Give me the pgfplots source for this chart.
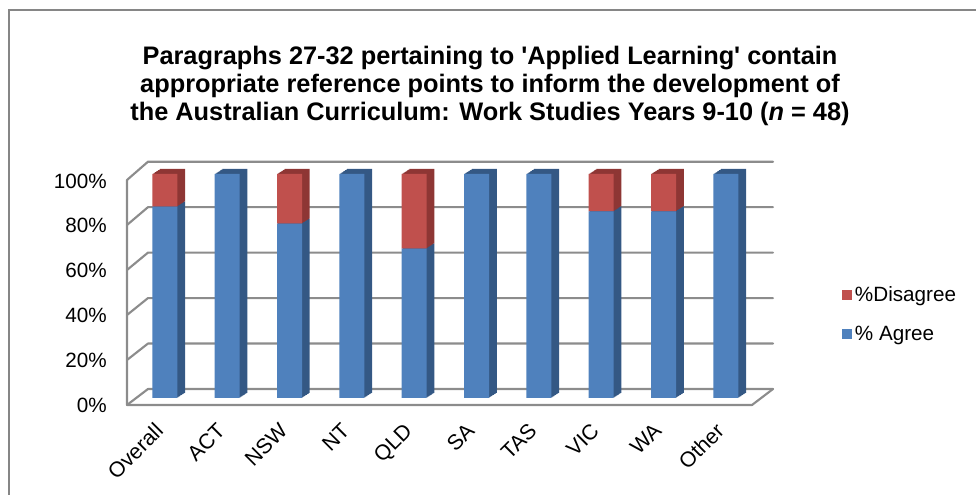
\documentclass[border=0pt]{standalone}
\usepackage{fontspec}
\setmainfont{Liberation Sans}
\usepackage{pgfplots}
\usepackage{pgfplotstable}
\pgfplotsset{compat=1.18}
\definecolor{fblue}{RGB}{79,129,189}
\definecolor{fred}{RGB}{192,80,77}
\definecolor{sblue}{RGB}{52,88,132}
\definecolor{sred}{RGB}{142,54,52}
\definecolor{wallc}{RGB}{140,140,140}
\definecolor{framec}{RGB}{134,134,134}

\pgfplotstableread{
x agree disagree zero
0 85.4 14.6 0
1 100 0 0
2 77.8 22.2 0
3 100 0 0
4 66.7 33.3 0
5 100 0 0
6 100 0 0
7 83.3 16.7 0
8 83.3 16.7 0
9 100 0 0
}\data

\pgfplotsset{base/.style={scale only axis, width=468.9pt, height=168pt,
  xmin=-0.45, xmax=9.58, ymin=0, ymax=100, ybar stacked, bar width=18.75pt,
  anchor=south west, clip=false}}

\begin{document}
\begin{tikzpicture}
\useasboundingbox (-102.6pt,-72.75pt) rectangle (629.4pt,298.5pt);
\begin{scope}[x=0.75pt,y=-0.75pt,shift={(-136.8,-398)}]
  % outer frame
  \draw[framec, line width=1.1pt] (9,540) -- (9,10) -- (1000,10);
  % walls
  \foreach \L in {0,20,...,100}{
    \draw[wallc, line width=1.6pt, line cap=round, line join=round]
      (127,{405-2.25*\L}) -- (148,{389-2.273*\L}) -- (773,{389-2.273*\L});
  }
  \draw[wallc, line width=1.6pt, line cap=round, line join=round]
    (127,180) -- (127,405) -- (752,405) -- (773,389);
  % title
  \node[align=center, font=\fontsize{19}{20.85}\selectfont\bfseries] at (490,86)
    {Paragraphs 27-32 pertaining to \textquotesingle Applied Learning\textquotesingle{} contain\\
     appropriate reference points to inform the development of\\
     the Australian Curriculum: Work Studies Years 9-10 (\textit{n} = 48)};
\end{scope}

\foreach \k in {8,7,...,1}{
\begin{axis}[base, hide axis, at={(\k*0.725pt,\k*0.469pt)}]
  \addplot[fill=sblue, draw=none] table[x=x, y=agree] {\data};
  \addplot[fill=sred, draw=none] table[x=x, y=disagree] {\data};
  \addplot[fill=none, draw=sred, line width=0.8pt, line join=round] table[x=x, y=zero] {\data};
\end{axis}
}

\begin{axis}[base, at={(0pt,0pt)},
  axis line style={draw=none}, tick style={draw=none},
  ytick={0,20,...,100},
  yticklabel={\pgfmathprintnumber{\tick}\%},
  /pgf/number format/assume math mode=true,
  yticklabel style={anchor=east, inner sep=0pt, xshift=-22.35pt, yshift=-5.25pt,
    font=\fontsize{15.5}{18}\selectfont},
  xtick={0,...,9},
  xticklabels={Overall,ACT,NSW,NT,QLD,SA,TAS,VIC,WA,Other},
  xticklabel style={xshift=-8.5pt, yshift=-17.5pt, rotate=45, anchor=north east, inner sep=0pt,
    font=\fontsize{16}{18}\selectfont},
  legend style={at={(1.1216,0.3728)}, anchor=west, draw=none, fill=none,
    font=\fontsize{15.5}{18}\selectfont, row sep=13pt},
  legend cell align=left,
  reverse legend,
  legend image code/.code={\fill[#1] (0pt,-3.75pt) rectangle (7.5pt,3.75pt);},
]
  \addplot[fill=fblue, draw=none] table[x=x, y=agree] {\data};
  \addlegendentry{\% Agree}
  \addplot[fill=fred, draw=none] table[x=x, y=disagree] {\data};
  \addlegendentry{\%Disagree}
\end{axis}
\end{tikzpicture}
\end{document}
